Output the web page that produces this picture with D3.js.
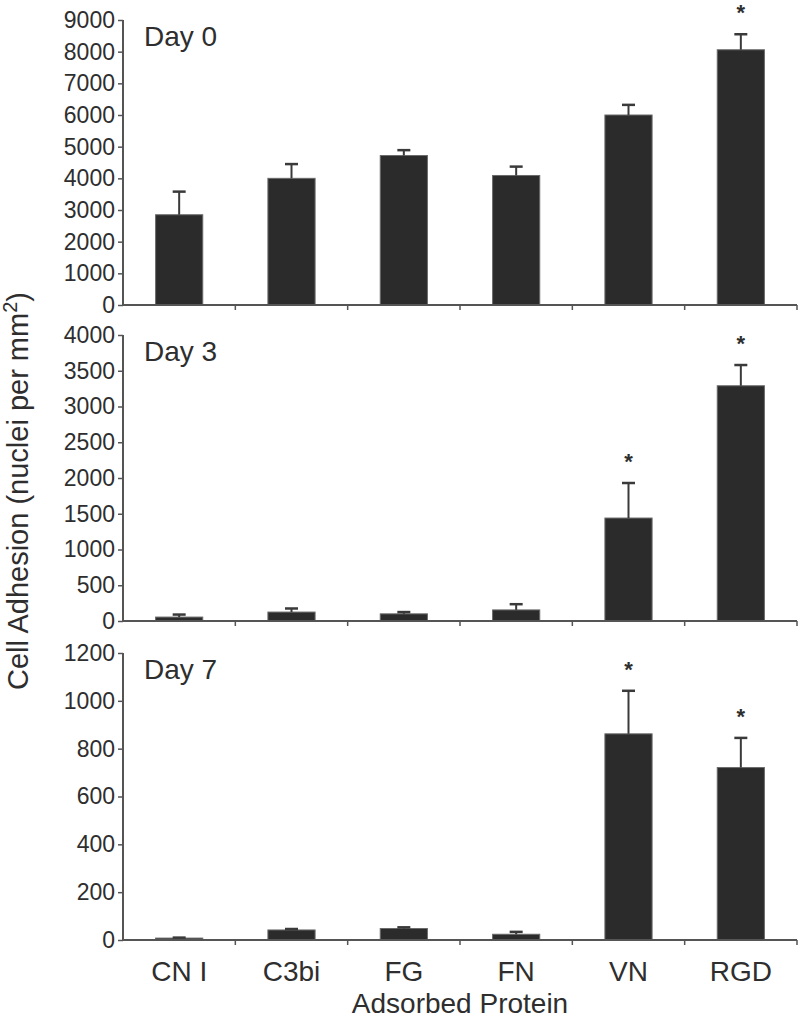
<!DOCTYPE html>
<html>
<head>
<meta charset="utf-8">
<script src="https://cdn.jsdelivr.net/npm/d3@7"></script>
<style>
  html, body { margin: 0; padding: 0; background: #fff; }
  svg { display: block; }
  text { font-family: "Liberation Sans", Arial, sans-serif; fill: #2e2e2e; }
</style>
</head>
<body>
<svg id="chart" width="800" height="1022"></svg>
<script>
// ---- data ----
const categories = ["CN I", "C3bi", "FG", "FN", "VN", "RGD"];

const day0Mean = [2850, 4000, 4720, 4090, 6000, 8060];
const day0Err  = [730, 450, 170, 280, 320, 490];
const day0Sig  = [false, false, false, false, false, true];
const day0Ticks = [0, 1000, 2000, 3000, 4000, 5000, 6000, 7000, 8000, 9000];

const day3Mean = [55, 125, 100, 155, 1440, 3290];
const day3Err  = [35, 50, 25, 80, 490, 290];
const day3Sig  = [false, false, false, false, true, true];
const day3Ticks = [0, 500, 1000, 1500, 2000, 2500, 3000, 3500, 4000];

const day7Mean = [8, 42, 48, 24, 862, 721];
const day7Err  = [2, 4, 5, 10, 180, 124];
const day7Sig  = [false, false, false, false, true, true];
const day7Ticks = [0, 200, 400, 600, 800, 1000, 1200];

const panelTitles = ["Day 0", "Day 3", "Day 7"];
const yTitle = "Cell Adhesion (nuclei per mm";
const xTitle = "Adsorbed Protein";

// ---- layout ----
const svg = d3.select("#chart");
const left = 123, right = 797;
const panels = [
  { title: panelTitles[0], mean: day0Mean, err: day0Err, sig: day0Sig, ticks: day0Ticks, top: 20, bottom: 305 },
  { title: panelTitles[1], mean: day3Mean, err: day3Err, sig: day3Sig, ticks: day3Ticks, top: 335, bottom: 621 },
  { title: panelTitles[2], mean: day7Mean, err: day7Err, sig: day7Sig, ticks: day7Ticks, top: 653, bottom: 940 }
];

const x = d3.scaleBand().domain(categories).range([left, right]).padding(0);
const step = x.step();
const barW = step * 0.42;
const axisColor = "#555";

panels.forEach((p, pi) => {
  const y = d3.scaleLinear()
    .domain([0, d3.max(p.ticks)])
    .range([p.bottom, p.top]);

  const g = svg.append("g");

  // bars
  g.selectAll("rect.bar").data(categories).enter().append("rect")
    .attr("class", "bar")
    .attr("x", (c) => x(c) + (step - barW) / 2)
    .attr("width", barW)
    .attr("y", (c, i) => y(p.mean[i]))
    .attr("height", (c, i) => p.bottom - y(p.mean[i]))
    .attr("fill", "#2b2b2b")
    .attr("stroke", "#6a6a6a")
    .attr("stroke-width", 1);

  // error bars (upper only)
  const eb = g.selectAll("g.err").data(categories).enter().append("g").attr("class", "err");
  eb.append("line")
    .attr("x1", (c) => x(c) + step / 2)
    .attr("x2", (c) => x(c) + step / 2)
    .attr("y1", (c, i) => y(p.mean[i]))
    .attr("y2", (c, i) => y(p.mean[i] + p.err[i]))
    .attr("stroke", "#3a3a3a")
    .attr("stroke-width", 2);
  eb.append("line")
    .attr("x1", (c) => x(c) + step / 2 - 6.5)
    .attr("x2", (c) => x(c) + step / 2 + 6.5)
    .attr("y1", (c, i) => y(p.mean[i] + p.err[i]))
    .attr("y2", (c, i) => y(p.mean[i] + p.err[i]))
    .attr("stroke", "#3a3a3a")
    .attr("stroke-width", 2.5);

  // significance stars
  g.selectAll("text.star").data(categories.filter((c, i) => p.sig[i])).enter().append("text")
    .attr("class", "star")
    .attr("x", (c) => x(c) + step / 2)
    .attr("y", (c) => { const i = categories.indexOf(c); return y(p.mean[i] + p.err[i]) - 14; })
    .attr("text-anchor", "middle")
    .style("font-size", "22px")
    .style("font-weight", "bold")
    .text("*");

  // y axis
  const ya = g.append("g")
    .attr("transform", `translate(${left},0)`)
    .call(d3.axisLeft(y).tickValues(p.ticks).tickSize(5).tickPadding(3).tickFormat(d3.format("d")));
  ya.select(".domain").attr("stroke", axisColor).attr("stroke-width", 2).attr("d", `M0,${p.top}V${p.bottom}`);
  ya.selectAll(".tick line").attr("stroke", axisColor).attr("stroke-width", 1.5);
  ya.selectAll(".tick text")
    .style("font-size", "23px")
    .style("font-family", "'Liberation Sans', Arial, sans-serif")
    .attr("fill", "#2e2e2e");

  // x axis line and boundary ticks
  g.append("line")
    .attr("x1", left).attr("x2", right)
    .attr("y1", p.bottom).attr("y2", p.bottom)
    .attr("stroke", axisColor).attr("stroke-width", 2);
  g.selectAll("line.xt").data(categories).enter().append("line")
    .attr("class", "xt")
    .attr("x1", (c) => x(c) + step).attr("x2", (c) => x(c) + step)
    .attr("y1", p.bottom).attr("y2", p.bottom + 5)
    .attr("stroke", axisColor).attr("stroke-width", 1.5);

  // panel title
  g.append("text")
    .attr("x", 144)
    .attr("y", p.top + 26)
    .style("font-size", "28px")
    .text(p.title);

  // category labels only on last panel
  if (pi === panels.length - 1) {
    g.selectAll("text.cat").data(categories).enter().append("text")
      .attr("class", "cat")
      .attr("x", (c) => x(c) + step / 2)
      .attr("y", 981)
      .attr("text-anchor", "middle")
      .style("font-size", "28px")
      .text((c) => c);
  }
});

// axis titles
svg.append("text")
  .attr("x", (left + right) / 2)
  .attr("y", 1013)
  .attr("text-anchor", "middle")
  .style("font-size", "28px")
  .text(xTitle);

const yt = svg.append("text")
  .attr("transform", "translate(28,491) rotate(-90)")
  .attr("text-anchor", "middle")
  .style("font-size", "29px");
yt.append("tspan").text(yTitle);
yt.append("tspan").attr("dy", -11).style("font-size", "20px").text("2");
yt.append("tspan").attr("dy", 11).text(")");
</script>
</body>
</html>
